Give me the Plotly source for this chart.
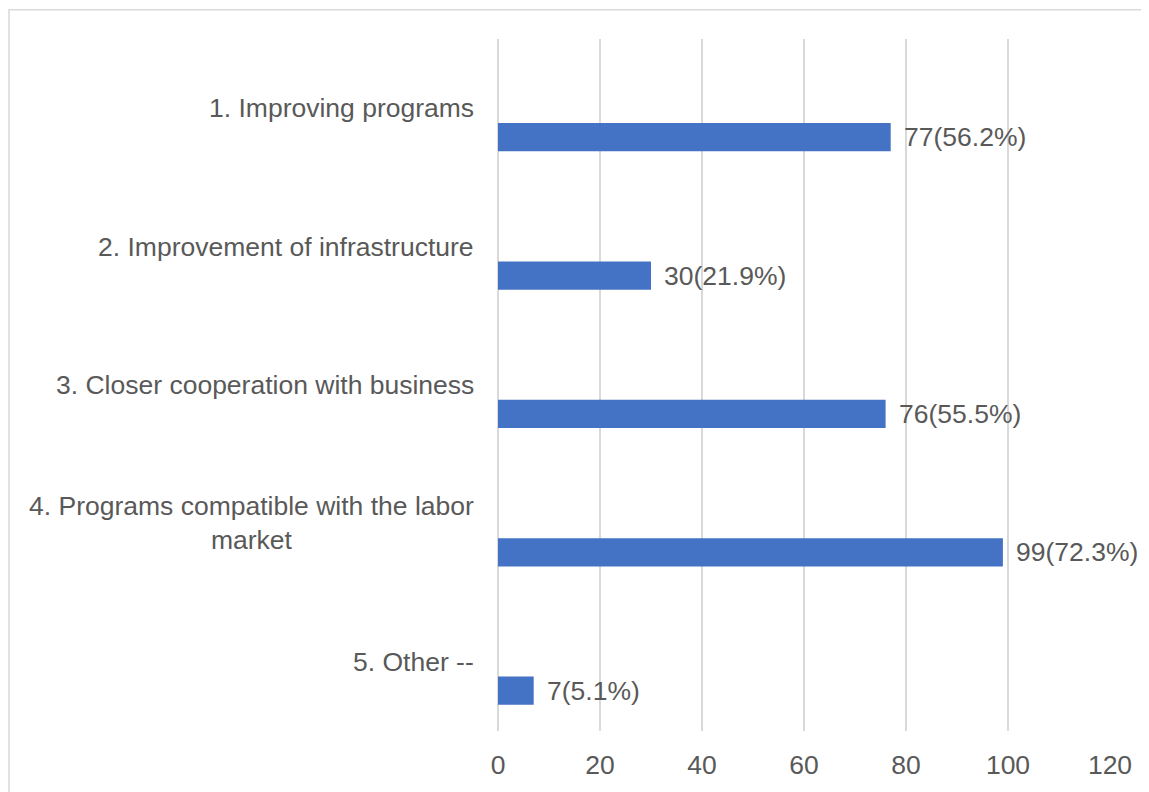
import plotly.graph_objects as go

categories = [
    "1. Improving programs",
    "2. Improvement of infrastructure",
    "3. Closer cooperation with business",
    "4. Programs compatible with the labor<br>market",
    "5. Other --",
]
counts = [77, 30, 76, 99, 7]
percents = ["56.2%", "21.9%", "55.5%", "72.3%", "5.1%"]
x_ticks = [0, 20, 40, 60, 80, 100, 120]

FONT = "Liberation Sans, Arial, sans-serif"
TXT = "#595959"
FS = 26.5
BAR_W = 0.204
BAR_OFF = 0.107
positions = list(range(len(categories)))

fig = go.Figure()
fig.add_trace(go.Bar(
    x=counts, y=positions, orientation="h",
    width=BAR_W, offset=BAR_OFF,
    marker=dict(color="#4472C4", line=dict(width=0)),
    hoverinfo="x",
))

annotations = []
for p, c in zip(positions, categories):
    annotations.append(dict(
        x=0, xref="x", y=p, yref="y", text=c, showarrow=False,
        xanchor="right", yanchor="middle", align="center", xshift=-22,
        font=dict(family=FONT, size=FS, color=TXT),
    ))
for p, v, pc in zip(positions, counts, percents):
    annotations.append(dict(
        x=v, xref="x", y=p + BAR_OFF + BAR_W / 2, yref="y",
        text=f"{v}({pc})", showarrow=False,
        xanchor="left", yanchor="middle", xshift=11,
        font=dict(family=FONT, size=FS, color=TXT),
    ))

# page has an 8px body margin
L, R, T, B = 490, 39, 31, 58
W, H = 1141, 784
pw, ph = W - L - R, H - T - B

fig.update_layout(
    width=W, height=H,
    margin=dict(l=L, r=R, t=T, b=B, pad=0),
    paper_bgcolor="white", plot_bgcolor="white",
    showlegend=False,
    annotations=annotations,
    xaxis=dict(
        range=[0, 120], tickvals=x_ticks, ticktext=[str(t) for t in x_ticks],
        showgrid=True, gridcolor="#d9d9d9", gridwidth=1.5,
        zeroline=True, zerolinecolor="#d9d9d9", zerolinewidth=1.5,
        showline=False, ticks="", ticklabelstandoff=15,
        tickfont=dict(family=FONT, size=FS, color=TXT),
        fixedrange=True,
    ),
    yaxis=dict(
        range=[4.5, -0.5], showticklabels=False, showgrid=False,
        zeroline=False, showline=False, ticks="", fixedrange=True,
    ),
    shapes=[dict(
        type="rect", xref="paper", yref="paper",
        x0=(1 - L) / pw, x1=(W + 30 - L) / pw,
        y0=(H - B - (H + 30)) / ph, y1=(H - B - 1.5) / ph,
        line=dict(color="#d9d9d9", width=1.5), fillcolor="rgba(0,0,0,0)",
        layer="below",
    )],
)

fig.write_html("out.html")
